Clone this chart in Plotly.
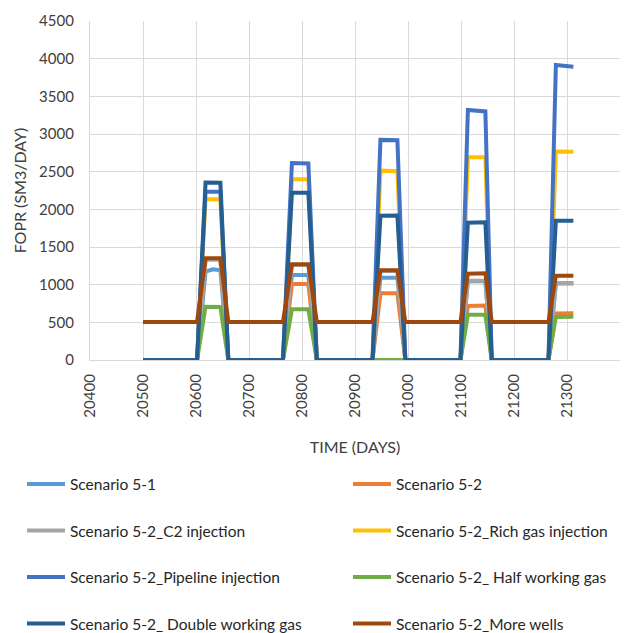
import plotly.graph_objects as go

# Report times (days) shared by every scenario
days = [20500,
        20602, 20618, 20632, 20646, 20661,
        20764, 20781, 20812, 20828,
        20933, 20948, 20980, 20995,
        21099, 21113, 21146, 21158,
        21265, 21279, 21312]

# Field oil production rate, SM3/DAY
scenario_5_1 = [0,
                0, 1175, 1204, 1190, 0,
                0, 1128, 1128, 0,
                0, 1093, 1093, 0,
                0, 1045, 1045, 0,
                0, 1015, 1015]
scenario_5_2 = [0,
                0, 1335, 1338, 1338, 0,
                0, 1009, 1009, 0,
                0, 885, 885, 0,
                0, 718, 722, 0,
                0, 618, 620]
c2_injection = [0,
                0, 1338, 1340, 1340, 0,
                0, 1262, 1262, 0,
                0, 1180, 1180, 0,
                0, 1053, 1053, 0,
                0, 1022, 1022]
rich_gas_injection = [0,
                      0, 2133, 2133, 2133, 0,
                      0, 2399, 2399, 0,
                      0, 2513, 2505, 0,
                      0, 2690, 2690, 0,
                      0, 2768, 2765]
pipeline_injection = [0,
                      0, 2234, 2234, 2234, 0,
                      0, 2615, 2608, 0,
                      0, 2922, 2918, 0,
                      0, 3319, 3300, 0,
                      0, 3916, 3894]
half_working_gas = [0,
                    0, 708, 708, 705, 0,
                    0, 673, 673, 0,
                    0, 0, 0, 0,
                    0, 600, 602, 0,
                    0, 572, 575]
double_working_gas = [0,
                      0, 2357, 2357, 2354, 0,
                      0, 2221, 2221, 0,
                      0, 1916, 1918, 0,
                      0, 1822, 1827, 0,
                      0, 1850, 1850]
more_wells = [505,
              505, 1350, 1350, 1350, 505,
              505, 1270, 1270, 505,
              505, 1190, 1190, 505,
              505, 1145, 1150, 505,
              505, 1119, 1119]

x_ticks = [20400, 20500, 20600, 20700, 20800, 20900, 21000, 21100, 21200, 21300, 21400]
y_ticks = [0, 500, 1000, 1500, 2000, 2500, 3000, 3500, 4000, 4500]

series_names = ["Scenario 5-1", "Scenario 5-2",
                "Scenario 5-2_C2 injection", "Scenario 5-2_Rich gas injection",
                "Scenario 5-2_Pipeline injection", "Scenario 5-2_ Half working gas",
                "Scenario 5-2_ Double working gas", "Scenario 5-2_More wells"]
series_values = [scenario_5_1, scenario_5_2, c2_injection, rich_gas_injection,
                 pipeline_injection, half_working_gas, double_working_gas, more_wells]
series_colors = ["#5B9BD5", "#ED7D31", "#A5A5A5", "#FFC000",
                 "#4472C4", "#70AD47", "#255E91", "#9E480E"]

FONT = "Lato"
TXT = "#404040"
GRID = "#D9D9D9"
W, H = 627, 633
M_L, M_R, M_T, M_B = 90, 7, 21, 273
PW, PH = W - M_L - M_R, H - M_T - M_B


def px_to_paper(px, py):
    """Pixel position on the page -> paper coordinates."""
    return (px - M_L) / PW, (H - M_B - py) / PH


fig = go.Figure()
for name, vals, color in zip(series_names, series_values, series_colors):
    fig.add_trace(go.Scatter(
        x=days, y=vals, mode="lines", name=name,
        line=dict(color=color, width=4), showlegend=False,
    ))

# Two-column key below the chart: swatch line + label per series
key_cols = [27, 353]
key_rows = [484, 530.5, 577, 623.5]
for i, (name, color) in enumerate(zip(series_names, series_colors)):
    cx = key_cols[i % 2]
    cy = key_rows[i // 2]
    x0, y0 = px_to_paper(cx, cy)
    x1, _ = px_to_paper(cx + 38, cy)
    xt, _ = px_to_paper(cx + 41, cy)
    fig.add_shape(type="line", xref="paper", yref="paper",
                  x0=x0, x1=x1, y0=y0, y1=y0,
                  line=dict(color=color, width=4))
    fig.add_annotation(xref="paper", yref="paper", x=xt, y=y0,
                       xanchor="left", yanchor="middle", showarrow=False,
                       text=name, font=dict(family=FONT, size=15.5, color="#262626"))

fig.update_layout(
    width=W, height=H,
    margin=dict(l=M_L, r=M_R, t=M_T, b=M_B),
    plot_bgcolor="white", paper_bgcolor="white",
    showlegend=False,
    font=dict(family=FONT, size=15, color=TXT),
    xaxis=dict(
        range=[20400, 21400], tickvals=x_ticks, ticktext=[str(v) for v in x_ticks],
        tickangle=-90, showgrid=True, gridcolor=GRID, gridwidth=1.3,
        zeroline=False, showline=True, linecolor=GRID, linewidth=1.3,
        ticks="", ticklabelstandoff=7, automargin=False,
        tickfont=dict(family=FONT, size=15, color=TXT),
        title=dict(text="TIME (DAYS)", font=dict(family=FONT, size=16, color=TXT), standoff=25),
    ),
    yaxis=dict(
        range=[0, 4500], tickvals=y_ticks, showgrid=True, gridcolor=GRID, gridwidth=1.3,
        zeroline=False, showline=True, linecolor=GRID, linewidth=1.3,
        ticks="", ticklabelstandoff=12, automargin=False,
        tickfont=dict(family=FONT, size=15, color=TXT),
        title=dict(text="FOPR (SM3/DAY)", font=dict(family=FONT, size=16, color=TXT), standoff=8),
    ),
)

fig.write_html("out.html")
